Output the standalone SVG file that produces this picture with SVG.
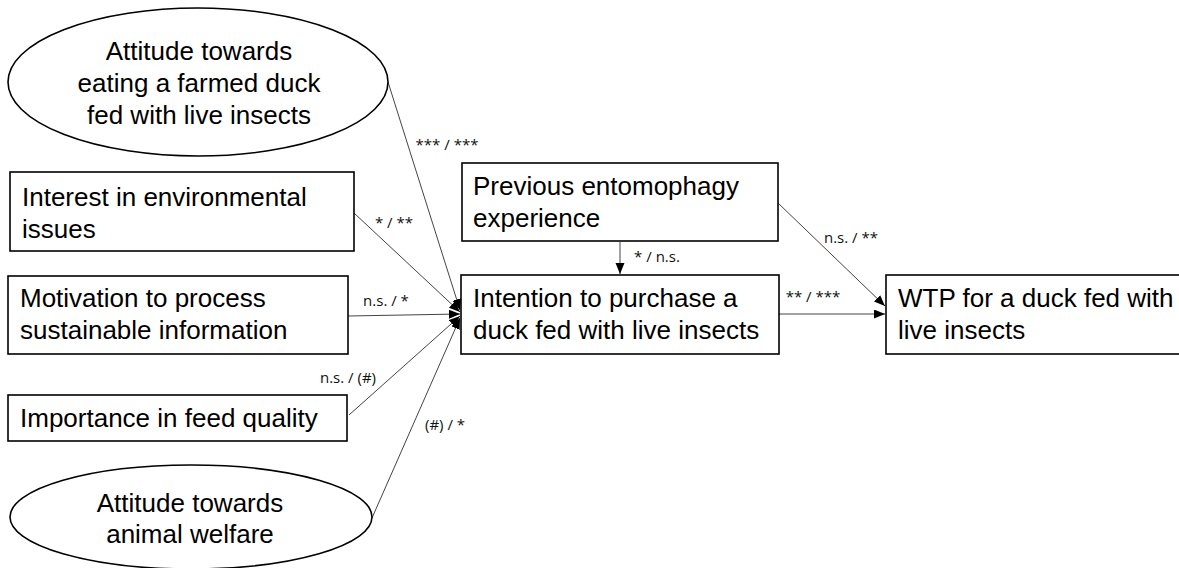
<svg xmlns="http://www.w3.org/2000/svg" width="1179" height="568" viewBox="0 0 1179 568">
<style>
.box{fill:#fff;stroke:#000;stroke-width:1.6}
.t{font-family:"Liberation Sans",Arial,sans-serif;font-size:26px;fill:#000}
.c{text-anchor:middle}
.lbl{font-family:"Open Sans","Liberation Sans",sans-serif;font-size:15px;fill:#111;text-anchor:middle}
.con{stroke:#444;stroke-width:1;fill:none;marker-end:url(#ah)}
</style>
<defs>
<marker id="ah" markerUnits="userSpaceOnUse" markerWidth="12" markerHeight="10" refX="11" refY="4.5" orient="auto">
<path d="M0,0 L11,4.5 L0,9 z" fill="#000"/>
</marker>
</defs>
<rect width="1179" height="568" fill="#fff"/>
<g id="connectors">
<line class="con" x1="388" y1="82" x2="460" y2="310"/>
<line class="con" x1="354" y1="213" x2="460" y2="312"/>
<line class="con" x1="348" y1="316" x2="460" y2="314"/>
<line class="con" x1="349" y1="415" x2="460" y2="316"/>
<line class="con" x1="372" y1="518" x2="460" y2="318"/>
<line class="con" x1="620" y1="242" x2="620" y2="274"/>
<line class="con" x1="778" y1="203" x2="885" y2="306"/>
<line class="con" x1="779" y1="314" x2="885" y2="314"/>
<text class="lbl" x="447" y="150">*** / ***</text>
<text class="lbl" x="394" y="228">* / **</text>
<text class="lbl" x="386" y="306">n.s. / *</text>
<text class="lbl" x="348" y="383">n.s. / (#)</text>
<text class="lbl" x="445" y="430">(#) / *</text>
<text class="lbl" x="657" y="262">* / n.s.</text>
<text class="lbl" x="851" y="243">n.s. / **</text>
<text class="lbl" x="813" y="302">** / ***</text>
</g>
<g id="att-duck">
<ellipse class="box" cx="198" cy="82" rx="190" ry="74"/>
<text class="t c" x="199" y="60">Attitude towards</text>
<text class="t c" x="199" y="92">eating a farmed duck</text>
<text class="t c" x="199" y="124">fed with live insects</text>
</g>
<g id="interest-env">
<rect class="box" x="10" y="172" width="344" height="79"/>
<text class="t" x="22" y="206">Interest in environmental</text>
<text class="t" x="22" y="238">issues</text>
</g>
<g id="motivation">
<rect class="box" x="8" y="276" width="340" height="78"/>
<text class="t" x="20" y="307">Motivation to process</text>
<text class="t" x="20" y="339">sustainable information</text>
</g>
<g id="importance-feed">
<rect class="box" x="8" y="395" width="339" height="46"/>
<text class="t" x="20" y="427">Importance in feed quality</text>
</g>
<g id="att-welfare">
<ellipse class="box" cx="191" cy="517" rx="181" ry="52"/>
<text class="t c" x="190" y="512">Attitude towards</text>
<text class="t c" x="190" y="543">animal welfare</text>
</g>
<g id="previous">
<rect class="box" x="462" y="163" width="316" height="78"/>
<text class="t" x="473" y="195">Previous entomophagy</text>
<text class="t" x="473" y="227">experience</text>
</g>
<g id="intention">
<rect class="box" x="461" y="275" width="318" height="79"/>
<text class="t" x="473" y="307">Intention to purchase a</text>
<text class="t" x="473" y="339">duck fed with live insects</text>
</g>
<g id="wtp">
<rect class="box" x="886" y="275" width="300" height="79"/>
<text class="t" x="898" y="307">WTP for a duck fed with</text>
<text class="t" x="898" y="339">live insects</text>
</g>
</svg>
